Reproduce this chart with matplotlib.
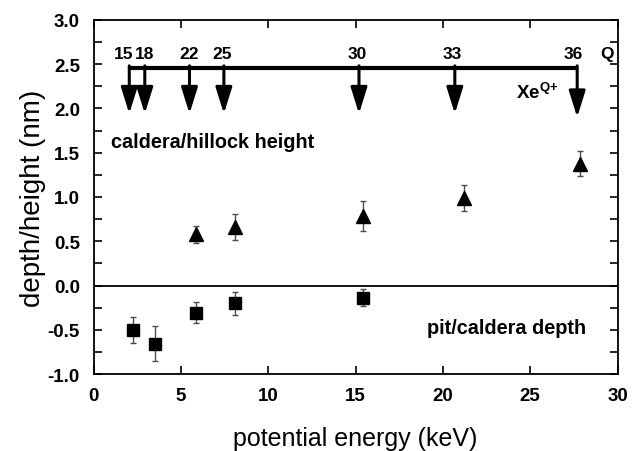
import matplotlib
matplotlib.use("Agg")
import matplotlib.pyplot as plt
from matplotlib.ticker import MultipleLocator, FormatStrFormatter

plt.rcParams["font.family"] = ["Liberation Sans", "DejaVu Sans"]
plt.rcParams["mathtext.fontset"] = "custom"
plt.rcParams["mathtext.rm"] = "Liberation Sans"
plt.rcParams["mathtext.bf"] = "Liberation Sans:bold"

# caldera / hillock height (triangles)
hill_x = [5.87, 8.1, 15.42, 21.19, 27.83]
hill_y = [0.577, 0.66, 0.785, 0.99, 1.377]
hill_err = [0.10, 0.15, 0.17, 0.15, 0.14]

# pit / caldera depth (squares)
pit_x = [2.25, 3.5, 5.87, 8.1, 15.42]
pit_y = [-0.50, -0.655, -0.305, -0.20, -0.135]
pit_err = [0.15, 0.20, 0.12, 0.13, 0.10]

# Xe charge states and their potential energy (keV)
q_labels = ["15", "18", "22", "25", "30", "33", "36"]
q_energy = [2.03, 2.92, 5.48, 7.45, 15.19, 20.68, 27.69]

fig = plt.figure(figsize=(6.34, 4.52), dpi=100)
ax = fig.add_axes([0.148, 0.170, 0.826, 0.784])

ax.errorbar(hill_x, hill_y, yerr=hill_err, fmt="^", color="k", ms=10,
            ecolor="0.3", elinewidth=1, capsize=2.5, capthick=1)
ax.errorbar(pit_x, pit_y, yerr=pit_err, fmt="s", color="k", ms=8.7,
            ecolor="0.3", elinewidth=1, capsize=2.5, capthick=1)

ax.axhline(0, color="k", lw=1.3)

# arrows for the charge states
bar_y = 2.46
ax.plot([q_energy[0] - 0.08, q_energy[-1] + 0.06], [bar_y, bar_y],
        color="k", lw=3, solid_capstyle="butt")
label_shift = [-0.3, 0, 0, -0.1, -0.12, -0.14, -0.25]
for i, (q, e) in enumerate(zip(q_labels, q_energy)):
    tip = 1.90 if i == len(q_labels) - 1 else 1.94
    ax.annotate("", xy=(e, tip), xytext=(e, bar_y + 0.02),
                arrowprops=dict(arrowstyle="-|>,head_length=1.6,head_width=0.5",
                                lw=2.2, color="k", shrinkA=0, shrinkB=0,
                                mutation_scale=10))
    ax.text(e + label_shift[i], 2.62, q, ha="center", va="center",
            fontsize=12.5, fontweight="bold")
ax.text(29.4, 2.62, "Q", ha="center", va="center", fontsize=12.5,
        fontweight="bold")
ax.text(24.2, 2.19, r"Xe$^{\mathbf{Q{+}}}$", ha="left", va="center",
        fontsize=13.5, fontweight="bold")

ax.text(0.97, 1.63, "caldera/hillock height", ha="left", va="center",
        fontsize=14.3, fontweight="bold")
ax.text(28.2, -0.47, "pit/caldera depth", ha="right", va="center",
        fontsize=14.3, fontweight="bold")

ax.set_xlim(0, 30)
ax.set_ylim(-1.0, 3.0)
ax.xaxis.set_major_locator(MultipleLocator(5))
ax.yaxis.set_major_locator(MultipleLocator(0.5))
ax.yaxis.set_minor_locator(MultipleLocator(0.25))
ax.yaxis.set_major_formatter(FormatStrFormatter("%.1f"))

ax.tick_params(which="both", direction="in", top=True, right=True,
               length=6, width=1.2, labelsize=13.5)
ax.tick_params(axis="x", pad=9)
ax.tick_params(axis="y", pad=10)
for lab in ax.get_xticklabels() + ax.get_yticklabels():
    lab.set_fontweight("bold")
for s in ax.spines.values():
    s.set_linewidth(1.3)

ax.set_xlabel("potential energy (keV)", fontsize=18, labelpad=16)
ax.set_ylabel("depth/height (nm)", fontsize=20, labelpad=1)

fig.savefig("out.png", dpi=100)
